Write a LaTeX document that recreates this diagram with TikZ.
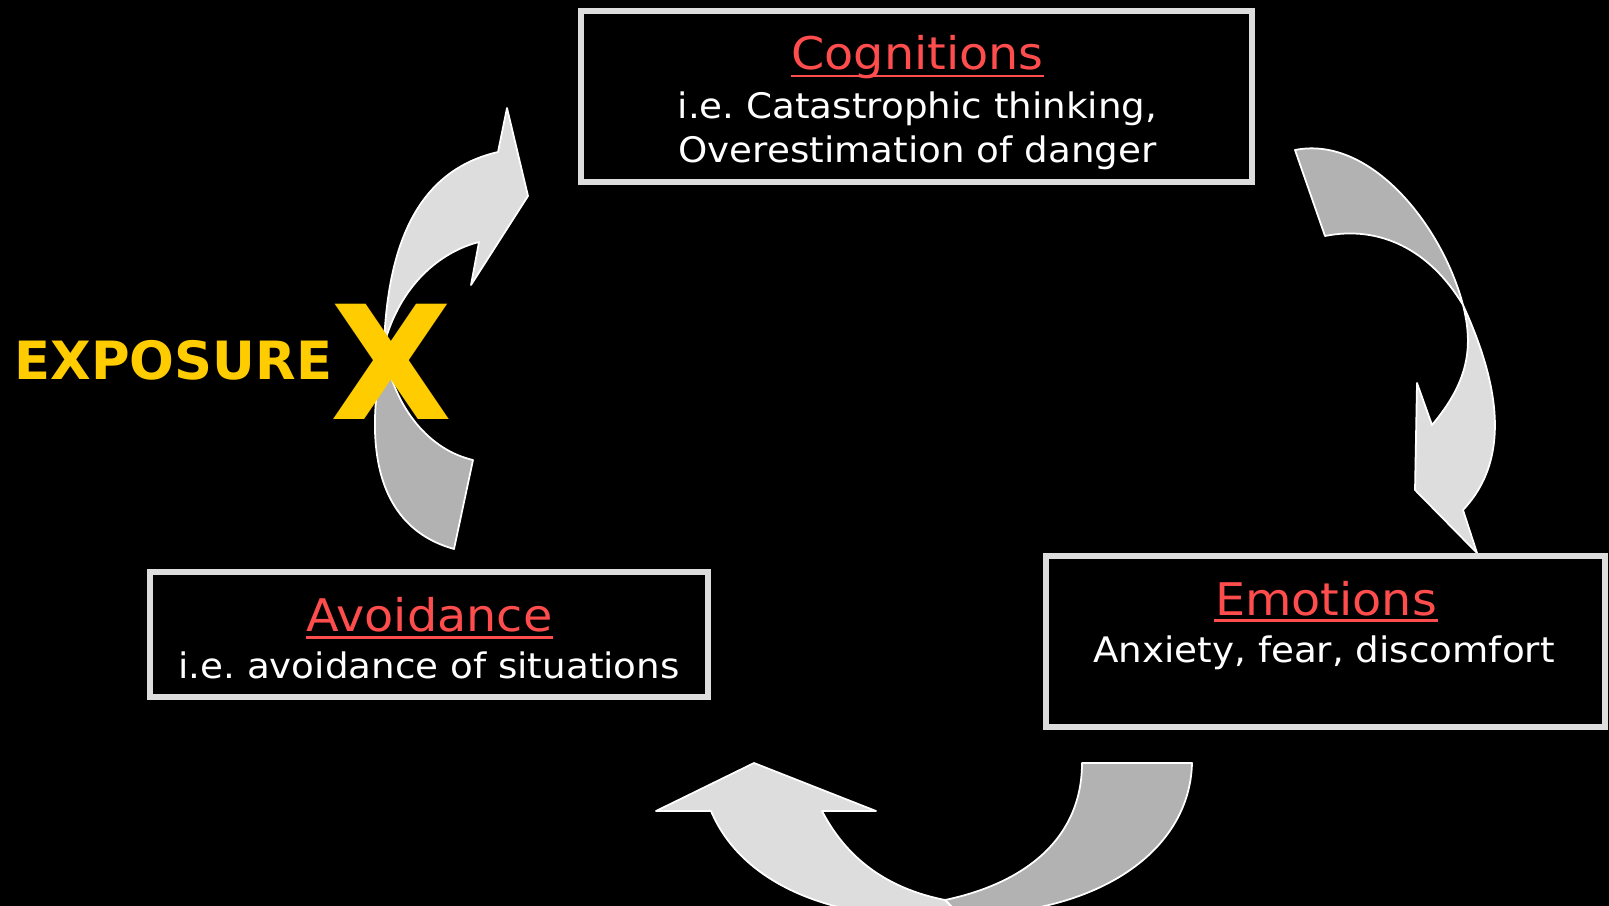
\documentclass[tikz,border=0pt]{standalone}
\usepackage{fontspec}
\setmainfont{DejaVu Sans}[FakeStretch=1.06]
\newfontfamily\expfont{DejaVu Sans}
\usepackage{tikz}
\usetikzlibrary{calc}
\frenchspacing

\definecolor{boxgray}{HTML}{DDDDDD}
\definecolor{arrowlight}{HTML}{DDDDDD}
\definecolor{arrowdark}{HTML}{B2B2B2}
\definecolor{titlered}{HTML}{FF4D4D}
\definecolor{expyellow}{HTML}{FFCC00}

\tikzset{
    box/.style={draw=boxgray, line width=0.55mm, rectangle, inner sep=0pt},
    title/.style={text=titlered, font=\fontsize{12.8}{15}\selectfont, inner sep=0pt, anchor=base},
    body/.style={text=white, font=\fontsize{10}{12}\selectfont, inner sep=0pt, anchor=base},
    uline/.style={draw=titlered, line width=0.85pt},
    lightpart/.style={fill=arrowlight, draw=white, line width=0.5pt, line join=round},
    darkpart/.style={fill=arrowdark, draw=white, line width=0.5pt, line join=round},
    expo/.style={text=expyellow, inner sep=0pt, anchor=base}
}

\begin{document}
\begin{tikzpicture}[x=0.1mm, y=-0.1mm]
    \fill[black] (0,0) rectangle (1609,906);
    \useasboundingbox (0,0) rectangle (1609,906);

    % bottom arrow
    \draw[darkpart] (1082,763) -- (1192,763) .. controls (1190,850) and (1100,915) .. (960,915)
        -- (945,900) .. controls (1030,882) and (1082,835) .. (1082,763) -- cycle;
    \draw[lightpart] (711,811) .. controls (740,880) and (820,912) .. (900,916) -- (960,916)
        -- (945,900) .. controls (895,890) and (850,865) .. (822,811)
        -- (876,811) -- (754,763) -- (656,811) -- cycle;

    % right arrow
    \draw[darkpart] (1295,150) .. controls (1370,135) and (1442,225) .. (1463,305)
        .. controls (1430,250) and (1380,225) .. (1325,236) -- cycle;
    \draw[lightpart] (1463,305) .. controls (1495,375) and (1515,455) .. (1463,510)
        -- (1477,553) -- (1415,490) -- (1417,383) -- (1432,425)
        .. controls (1470,380) and (1473,345) .. (1463,305) -- cycle;

    % left arrow
    \draw[lightpart] (384,345) .. controls (388,240) and (420,170) .. (498,152)
        -- (507,108) -- (528,196) -- (471,285) -- (479,242)
        .. controls (440,252) and (400,285) .. (384,345) -- cycle;
    \draw[darkpart] (384,350) .. controls (366,430) and (368,525) .. (454,549)
        -- (473,460) .. controls (430,450) and (395,410) .. (384,350) -- cycle;

    % boxes
    \node[box, minimum width=67.1mm, minimum height=17.1mm] (cog) at (916.5,96.5) {};
    \node[box, minimum width=55.9mm, minimum height=17.1mm] (emo) at (1325.5,641.5) {};
    \node[box, minimum width=55.8mm, minimum height=12.5mm] (avo) at (429,634.5) {};

    \node[title] (cogT) at (917.5,70) {Cognitions};
    \node[body] (cogA) at (917.5,119) {i.e. Catastrophic thinking,};
    \node[body] (cogB) at (917.5,163) {Overestimation of danger};
    \draw[uline] ([yshift=-0.6mm]cogT.base west) -- ([yshift=-0.6mm]cogT.base east);

    \node[title] (emoT) at (1326,615) {Emotions};
    \node[body] (emoA) at (1324,662) {Anxiety, fear, discomfort};
    \draw[uline] ([yshift=-0.55mm]emoT.base west) -- ([yshift=-0.55mm]emoT.base east);

    \node[title] (avoT) at (429.5,631.7) {Avoidance};
    \node[body] (avoA) at (429,678.3) {i.e. avoidance of situations};
    \draw[uline] ([yshift=-0.55mm]avoT.base west) -- ([yshift=-0.55mm]avoT.base east);

    % exposure
    \node[expo, font=\expfont\bfseries\fontsize{15}{18}\selectfont] (exposure) at (173.3,379.3) {EXPOSURE};
    \node[expo, font=\expfont\bfseries\fontsize{45}{50}\selectfont] (cross) at (391,420) {X};
\end{tikzpicture}
\end{document}
